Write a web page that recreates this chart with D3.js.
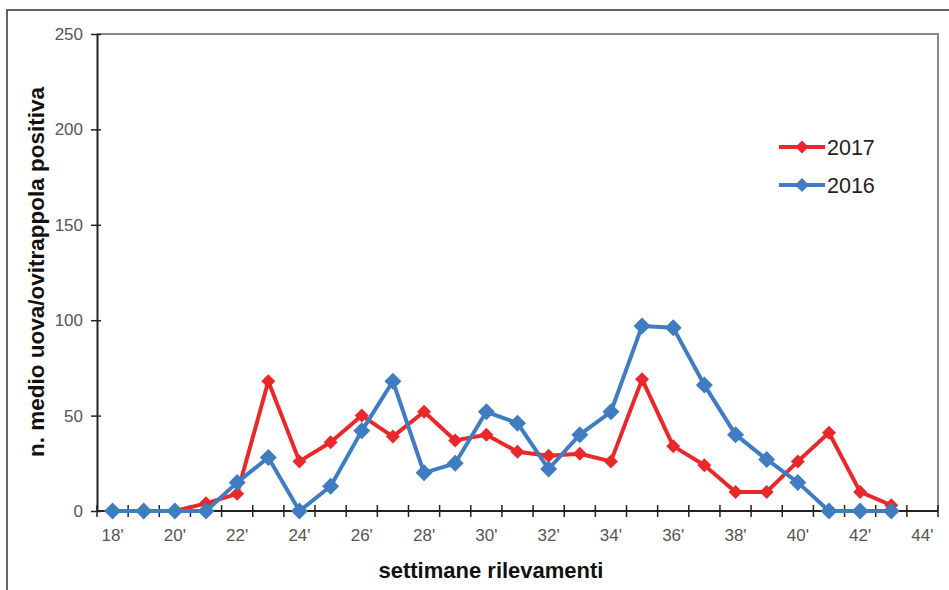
<!DOCTYPE html>
<html><head><meta charset="utf-8">
<script src="https://cdn.jsdelivr.net/npm/d3@7"></script>
<style>body{margin:0;background:#fff}svg{display:block}</style>
</head><body>
<script>
const weeks = d3.range(18, 45);
const tickLabels = ["18'","20'","22'","24'","26'","28'","30'","32'","34'","36'","38'","40'","42'","44'"];
const yTicks = [0, 50, 100, 150, 200, 250];
const weeks2017 = [18,19,20,21,22,23,24,25,26,27,28,29,30,31,32,33,34,35,36,37,38,39,40,41,42,43];
const values2017 = [0,0,0,4,9,68,26,36,50,39,52,37,40,31,29,30,26,69,34,24,10,10,26,41,10,3];
const weeks2016 = [18,19,20,21,22,23,24,25,26,27,28,29,30,31,32,33,34,35,36,37,38,39,40,41,42,43];
const values2016 = [0,0,0,0,15,28,0,13,42,68,20,25,52,46,22,40,52,97,96,66,40,27,15,0,0,0];

const W = 949, H = 590;
const FONT = "Arial, 'Liberation Sans', sans-serif";
const svg = d3.select("body").append("svg").attr("width", W).attr("height", H);
const pLeft = 97, pRight = 938, pTop = 34, pBottom = 511;

// outer frame
svg.append("path").attr("d", `M7,590 V10 H949`).attr("fill","none").attr("stroke","#333").attr("stroke-width",1.5);

const x = d3.scaleBand().domain(weeks).range([pLeft, pRight]);
const y = d3.scaleLinear().domain([0, 250]).range([pBottom, pTop]);

// plot area border top/right
svg.append("path").attr("d", `M${pLeft},${pTop} H${pRight} V${pBottom}`).attr("fill","none").attr("stroke","#888").attr("stroke-width",2);

// y axis
const yAxis = svg.append("g").attr("transform", `translate(${pLeft},0)`)
  .call(d3.axisLeft(y).tickValues(yTicks).tickSize(6).tickPadding(6).tickSizeOuter(0));
yAxis.select(".domain").attr("stroke","#222").attr("stroke-width",2);
yAxis.selectAll(".tick line").attr("stroke","#222").attr("stroke-width",1.5).attr("x2",4).attr("x1",-6);
yAxis.selectAll(".tick text").attr("fill","#555").style("font-family",FONT).style("font-size","17px").attr("x",-14);

// x axis
const xg = svg.append("g").attr("transform", `translate(0,${pBottom})`);
xg.append("line").attr("x1", pLeft).attr("x2", pRight).attr("stroke","#222").attr("stroke-width",2);
const bounds = weeks.map(w => x(w)).concat([pRight]);
xg.selectAll("line.tk").data(bounds).enter().append("line").attr("class","tk")
  .attr("x1", d => d).attr("x2", d => d).attr("y1", -6).attr("y2", 6).attr("stroke","#222").attr("stroke-width",1.5);
const labelWeeks = weeks.filter(w => w % 2 === 0);
xg.selectAll("text").data(labelWeeks).enter().append("text")
  .attr("x", (d) => x(d) + x.bandwidth()/2).attr("y", 30)
  .attr("text-anchor","middle").attr("fill","#555")
  .style("font-family",FONT).style("font-size","17px")
  .text((d, i) => tickLabels[i]);

// axis titles
svg.append("text").attr("x", 491).attr("y", 578).attr("text-anchor","middle")
  .style("font-family",FONT).style("font-size","22px").style("font-weight","bold").attr("fill","#111")
  .text("settimane rilevamenti");
svg.append("text").attr("transform","translate(44,272) rotate(-90)").attr("text-anchor","middle")
  .style("font-family",FONT).style("font-size","22.5px").style("font-weight","bold").attr("fill","#111")
  .text("n. medio uova/ovitrappola positiva");

const cx = w => x(w) + x.bandwidth()/2;
function series(ws, vs, color, r) {
  const data = ws.map((w, i) => ({w, v: vs[i]}));
  svg.append("path").datum(data)
    .attr("d", d3.line().x(d => cx(d.w)).y(d => y(d.v)))
    .attr("fill","none").attr("stroke", color).attr("stroke-width", 4).attr("stroke-linejoin","round");
  svg.append("g").selectAll("path").data(data).enter().append("path")
    .attr("d", d => `M${cx(d.w)},${y(d.v)-r} L${cx(d.w)+r},${y(d.v)} L${cx(d.w)},${y(d.v)+r} L${cx(d.w)-r},${y(d.v)} Z`)
    .attr("fill", color);
}
const red = "#e8282b", blue = "#3f7cc0";
series(weeks2017, values2017, red, 7);
series(weeks2016, values2016, blue, 8.5);

// legend
const legend = [{name:"2017", color:red, y:147, r:6.5},{name:"2016", color:blue, y:185, r:7}];
const lg = svg.append("g");
legend.forEach(l => {
  lg.append("line").attr("x1",779).attr("x2",825).attr("y1",l.y).attr("y2",l.y).attr("stroke",l.color).attr("stroke-width",4);
  lg.append("path").attr("d",`M802,${l.y-l.r} L${802+l.r},${l.y} L802,${l.y+l.r} L${802-l.r},${l.y} Z`).attr("fill",l.color);
  lg.append("text").attr("x",827).attr("y",l.y+8).style("font-family",FONT).style("font-size","21.5px").attr("fill","#222").text(l.name);
});
</script>
</body></html>
